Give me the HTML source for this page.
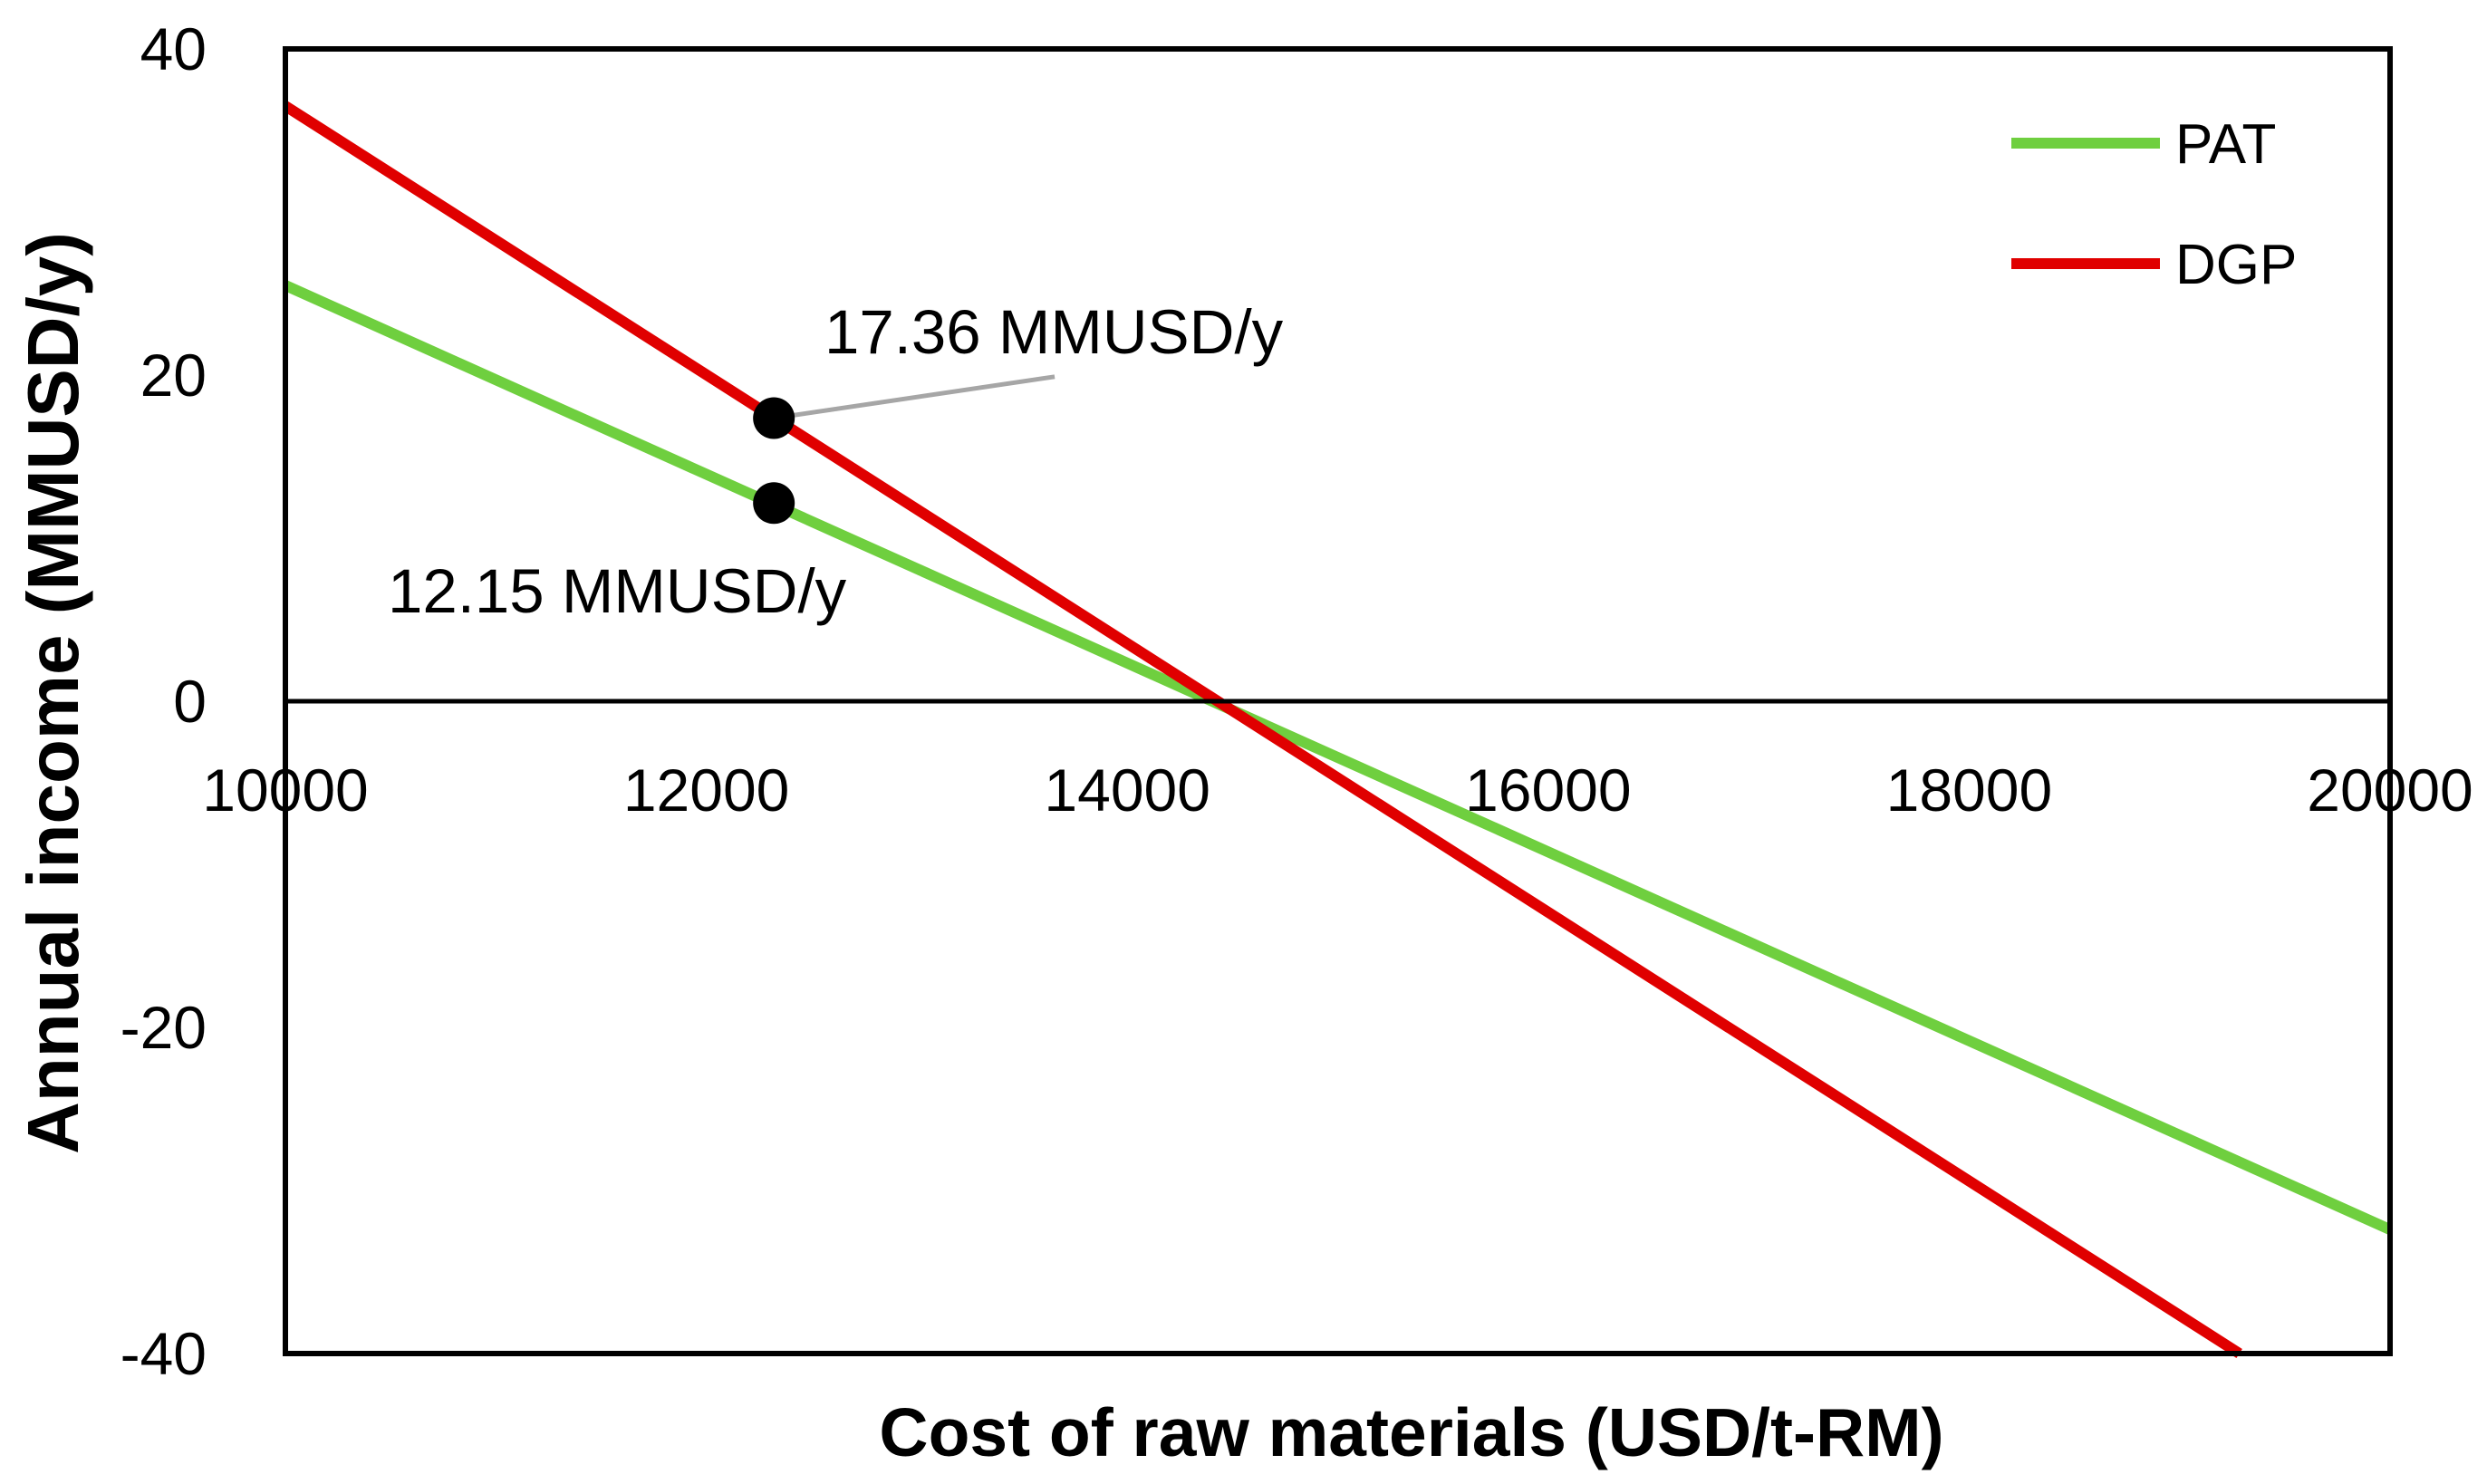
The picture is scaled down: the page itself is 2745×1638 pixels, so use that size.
<!DOCTYPE html>
<html><head><meta charset="utf-8"><style>
html,body{margin:0;padding:0;background:#fff;}
svg{display:block;}
text{font-family:"Liberation Sans",sans-serif;}
</style></head><body>
<svg id="chart" width="2745" height="1638" viewBox="0 0 2745 1638" xmlns="http://www.w3.org/2000/svg">
<g id="plot"></g>
</svg>
<script>
const xDomain = [10000, 20000];
const yDomain = [-40, 40];
const xTicks = [10000, 12000, 14000, 16000, 18000, 20000];
const yTicks = [-40, -20, 0, 20, 40];
const patX = [10000, 20000];
const patY = [25.5, -32.4];
const dgpX = [10000, 19284];
const dgpY = [36.5, -40];
const markerX = [12321, 12321];
const markerY = [17.36, 12.15];
const markerLabels = ["17.36 MMUSD/y", "12.15 MMUSD/y"];

const L = 315, R = 2638, T = 54, B = 1494;
const sx = v => L + (v - xDomain[0]) / (xDomain[1] - xDomain[0]) * (R - L);
const sy = v => B - (v - yDomain[0]) / (yDomain[1] - yDomain[0]) * (B - T);
const NS = "http://www.w3.org/2000/svg";
const g = document.getElementById("plot");
function mk(tag, attrs, parent) {
  const e = document.createElementNS(NS, tag);
  for (const k in attrs) e.setAttribute(k, attrs[k]);
  (parent || g).appendChild(e);
  return e;
}
let e;
e = mk("line", {x1: sx(patX[0]), y1: sy(patY[0]), x2: sx(patX[1]), y2: sy(patY[1]), stroke: "#6fcf3f", "stroke-width": 12});


e = mk("line", {x1: sx(dgpX[0]), y1: sy(dgpY[0]), x2: sx(dgpX[1]), y2: sy(dgpY[1]), stroke: "#e00000", "stroke-width": 12});


e = mk("rect", {x: L, y: T, width: R - L, height: B - T, fill: "none", stroke: "#000", "stroke-width": 6});


e = mk("line", {x1: L, y1: sy(0), x2: R, y2: sy(0), stroke: "#000", "stroke-width": 5});


e = mk("line", {x1: sx(markerX[0]), y1: sy(markerY[0]), x2: sx(13655), y2: sy(19.9), stroke: "#a6a6a6", "stroke-width": 5});


for (let i = 0; i < markerX.length; i++) {
  e = mk("circle", {cx: sx(markerX[i]), cy: sy(markerY[i]), r: 23, fill: "#000"});
  
  
}
e = mk("text", {x: 910, y: 390, "font-size": 69, fill: "#000"});
e.textContent = markerLabels[0];


e = mk("text", {x: 428, y: 676, "font-size": 69, fill: "#000"});
e.textContent = markerLabels[1];


for (const t of yTicks) {
  e = mk("text", {x: 228, y: sy(t) + 23, "font-size": 66, "text-anchor": "end", fill: "#000"});
  e.textContent = t;
  
  
}
for (const t of xTicks) {
  e = mk("text", {x: sx(t), y: 895, "font-size": 66, "text-anchor": "middle", fill: "#000"});
  e.textContent = t;
  
  
}
e = mk("text", {x: 1558, y: 1607, "font-size": 75, "font-weight": "bold", "text-anchor": "middle", fill: "#000"});
e.textContent = "Cost of raw materials (USD/t-RM)";


e = mk("text", {x: 0, y: 0, "font-size": 80, "font-weight": "bold", "text-anchor": "middle", fill: "#000", transform: "translate(86,765) rotate(-90)"});
e.textContent = "Annual income (MMUSD/y)";


const legNames = ["PAT", "DGP"], legColors = ["#6fcf3f", "#e00000"], legY = [158, 291];
for (let i = 0; i < 2; i++) {
  e = mk("line", {x1: 2220, y1: legY[i], x2: 2384, y2: legY[i], stroke: legColors[i], "stroke-width": 12});
  
  
  e = mk("text", {x: 2401, y: legY[i] + 22, "font-size": 62, fill: "#000"});
  e.textContent = legNames[i];
  
  
}
</script>
</body></html>
